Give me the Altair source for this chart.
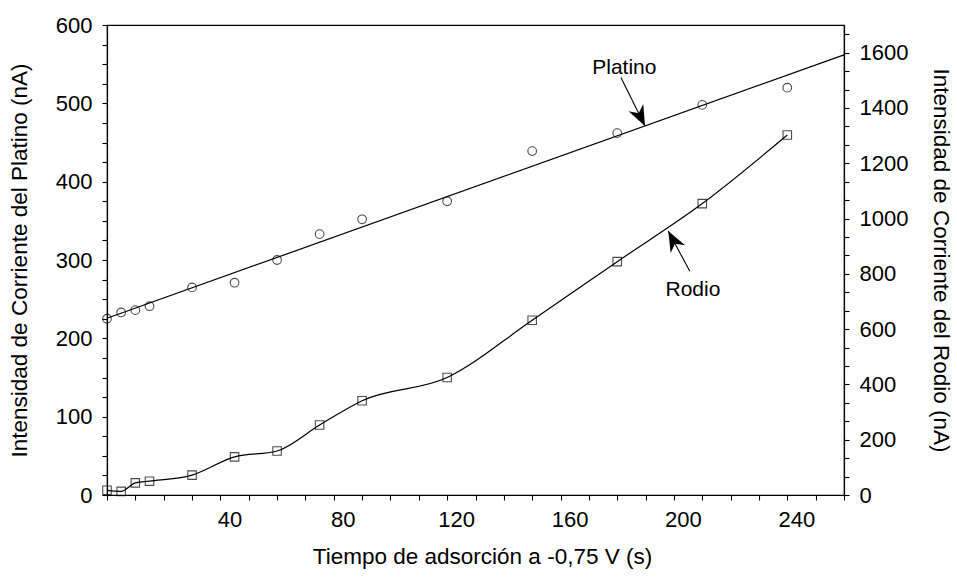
import math
import altair as alt
import pandas as pd

# Adsorption time (s) and measured currents (nA)
tiempo = [0, 5, 10, 15, 30, 45, 60, 75, 90, 120, 150, 180, 210, 240]
platino = [225, 233, 236, 241, 265, 271, 300, 333, 352, 375, 439, 462, 498, 520]
rodio = [17, 13, 44, 50, 72, 138, 159, 253, 341, 425, 632, 844, 1054, 1302]

# Axis ranges and tick values
x_domain = [0, 260]
pt_domain = [0, 600]
rh_domain = [0, 1700]
x_ticks = list(range(0, 261, 10))
pt_ticks = list(range(0, 601, 25))
rh_ticks = [round(i * 200 / 3, 4) for i in range(0, 26)]

# Callout labels with arrows (data units)
pt_note = {"label": "Platino", "tx": 182.5, "ty": 545, "x0": 181.3, "y0": 533, "x1": 189.8, "y1": 471}
rh_note = {"label": "Rodio", "tx": 206.7, "ty": 743, "x0": 205.6, "y0": 809, "x1": 198.0, "y1": 955}

W, H = 737, 470
FONT = "Liberation Sans"
ARROW = "M0,0 L0.8,2 L0,1.4 L-0.8,2 Z"


def head_angle(n, ydom):
    kx = W / (x_domain[1] - x_domain[0])
    ky = H / (ydom[1] - ydom[0])
    dx = (n["x1"] - n["x0"]) * kx
    dy = -(n["y1"] - n["y0"]) * ky
    return math.degrees(math.atan2(dx, -dy)) % 360


df = pd.DataFrame({"t": tiempo, "pt": platino, "rh": rodio})

x_scale = alt.Scale(domain=x_domain, nice=False, zero=False)
pt_scale = alt.Scale(domain=pt_domain, nice=False, zero=False)
rh_scale = alt.Scale(domain=rh_domain, nice=False, zero=False)

X_TITLE = "Tiempo de adsorción a -0,75 V (s)"
PT_TITLE = "Intensidad de Corriente del Platino (nA)"
RH_TITLE = "Intensidad de Corriente del Rodio (nA)"

x_axis = alt.Axis(
    values=x_ticks,
    labelExpr="datum.value % 40 == 0 && datum.value > 0 ? datum.label : ''",
    title=X_TITLE,
    titleX=375,
    titleY=61,
    titleBaseline="middle",
    labelOffset=9,
    labelPadding=9,
    tickSize=5,
    grid=False,
)
pt_axis = alt.Axis(
    values=pt_ticks,
    labelExpr="datum.value % 100 == 0 ? datum.label : ''",
    title=PT_TITLE,
    titleX=-88,
    titleY=H / 2,
    titleBaseline="middle",
    labelPadding=10,
    tickSize=5,
    grid=False,
)
rh_axis = alt.Axis(
    orient="right",
    values=rh_ticks,
    labelExpr="round(datum.value) % 200 == 0 ? format(round(datum.value), 'd') : ''",
    title=RH_TITLE,
    titleX=96,
    titleY=H / 2,
    titleAngle=90,
    titleBaseline="middle",
    labelPadding=10,
    tickSize=5,
    grid=False,
)


def xe(field):
    return alt.X(field, type="quantitative", scale=x_scale, axis=x_axis, title=X_TITLE)


def pe(field):
    return alt.Y(field, type="quantitative", scale=pt_scale, axis=pt_axis, title=PT_TITLE)


def re(field):
    return alt.Y(field, type="quantitative", scale=rh_scale, axis=rh_axis, title=RH_TITLE)


# Platinum: open circles with least-squares line
base_pt = alt.Chart(df)
pt_line = base_pt.transform_regression("t", "pt", extent=x_domain).mark_line(
    color="black", strokeWidth=1.2
).encode(x=xe("t"), y=pe("pt"))
pt_pts = base_pt.mark_point(shape="circle", filled=False, color="black", size=75, strokeWidth=1.1).encode(
    x=xe("t"), y=pe("pt")
)

pt_ann = alt.Chart(pd.DataFrame([pt_note]))
pt_arrow = pt_ann.mark_rule(color="black", strokeWidth=1.1).encode(
    x=xe("x0"), x2="x1:Q", y=pe("y0"), y2="y1:Q"
)
pt_head = pt_ann.mark_point(
    shape=ARROW, filled=True, color="black", size=420, angle=head_angle(pt_note, pt_domain), opacity=1
).encode(x=xe("x1"), y=pe("y1"))
pt_text = pt_ann.mark_text(font=FONT, fontSize=21, color="black").encode(
    x=xe("tx"), y=pe("ty"), text="label:N"
)

# Rhodium: open squares with smooth curve, right-hand axis
base_rh = alt.Chart(df)
rh_line = base_rh.mark_line(color="black", strokeWidth=1.2, interpolate="monotone").encode(
    x=xe("t"), y=re("rh")
)
rh_pts = base_rh.mark_point(shape="square", filled=False, color="black", size=72, strokeWidth=1.1).encode(
    x=xe("t"), y=re("rh")
)

rh_ann = alt.Chart(pd.DataFrame([rh_note]))
rh_arrow = rh_ann.mark_rule(color="black", strokeWidth=1.1).encode(
    x=xe("x0"), x2="x1:Q", y=re("y0"), y2="y1:Q"
)
rh_head = rh_ann.mark_point(
    shape=ARROW, filled=True, color="black", size=420, angle=head_angle(rh_note, rh_domain), opacity=1
).encode(x=xe("x1"), y=re("y1"))
rh_text = rh_ann.mark_text(font=FONT, fontSize=21, color="black").encode(
    x=xe("tx"), y=re("ty"), text="label:N"
)

pt_group = alt.layer(pt_line, pt_pts, pt_arrow, pt_head, pt_text)
rh_group = alt.layer(rh_line, rh_pts, rh_arrow, rh_head, rh_text)

chart = (
    alt.layer(pt_group, rh_group)
    .resolve_scale(y="independent")
    .properties(
        width=W,
        height=H,
        autosize="none",
        padding={"left": 107, "top": 25, "right": 113, "bottom": 84},
        background="white",
    )
    .configure_view(stroke="black", strokeWidth=1.2)
    .configure_axis(
        domainColor="black",
        domainWidth=1.2,
        tickColor="black",
        tickWidth=1.1,
        labelColor="black",
        titleColor="black",
        labelFont=FONT,
        titleFont=FONT,
        labelFontSize=22,
        titleFontSize=22.5,
        titleFontWeight="normal",
    )
)

chart.save("out.html", embed_options={"renderer": "svg", "actions": False})
